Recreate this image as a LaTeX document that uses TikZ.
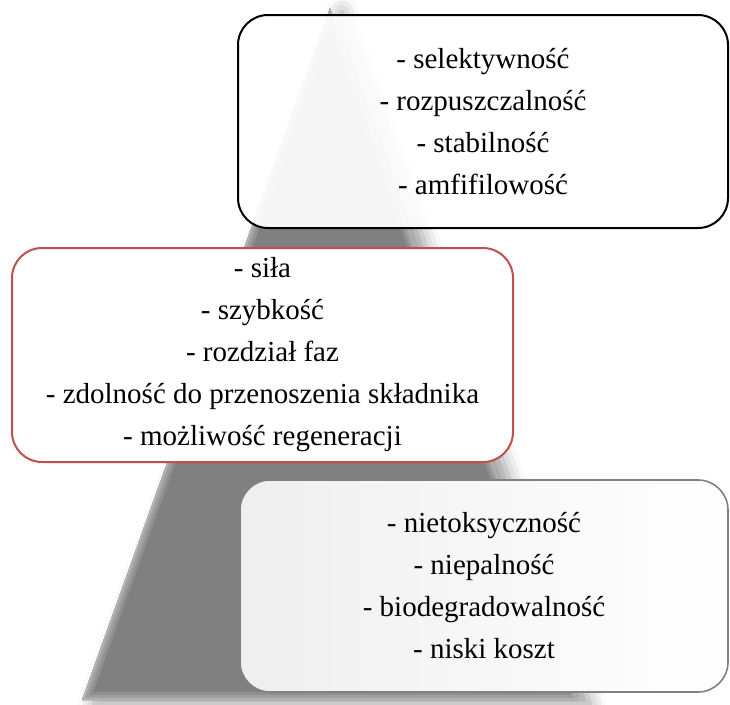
\documentclass[tikz,border=0pt]{standalone}
\usepackage{fontspec}
\setmainfont{Liberation Serif}
\usetikzlibrary{shadows.blur}

\definecolor{pyrgray}{RGB}{128,128,128}
\definecolor{boxred}{RGB}{192,80,77}
\definecolor{boxgray}{RGB}{128,128,128}

\begin{document}
\begin{tikzpicture}[x=1pt,y=-1pt,
  card/.style={rounded corners=30pt, line width=2pt, align=center,
    font=\fontsize{29}{42}\selectfont, inner sep=0pt, text=black},
  bevel/.style={line join=miter}]
\useasboundingbox (0,0) rectangle (730,704);

% pyramid
\coordinate (apex) at (330,8);
\coordinate (bl) at (82,700);
\coordinate (br) at (578,700);
\path[fill=pyrgray,
  blur shadow={shadow xshift=12pt, shadow yshift=-4pt,
    shadow blur radius=16pt, shadow opacity=40}]
  (apex) -- (br) -- (bl) -- cycle;
\begin{scope}
  \clip (apex) -- (br) -- (bl) -- cycle;
  \draw[bevel, line width=16pt, gray!88] (apex) -- (br) -- (bl) -- cycle;
  \draw[bevel, line width=10pt, gray!75] (apex) -- (br) -- (bl) -- cycle;
  \draw[bevel, line width=4pt, gray!60] (apex) -- (br) -- (bl) -- cycle;
\end{scope}

% upper card
\node[card, draw=black, fill=white, fill opacity=0.92, text opacity=1,
  minimum width=490pt, minimum height=213pt] (top) at (483,121.5)
  {- selektywność\\- rozpuszczalność\\- stabilność\\- amfifilowość};

% middle card
\node[card, draw=boxred, fill=white,
  minimum width=501pt, minimum height=214pt] (mid) at (262.5,355)
  {- siła\\- szybkość\\- rozdział faz\\- zdolność do przenoszenia składnika\\- możliwość regeneracji};

% lower card
\node[card, line width=1.6pt, draw=boxgray, shading angle=60,
  shade, left color=gray!13, right color=white,
  minimum width=488pt, minimum height=212pt] (low) at (484,586)
  {- nietoksyczność\\- niepalność\\- biodegradowalność\\- niski koszt};
\end{tikzpicture}
\end{document}
